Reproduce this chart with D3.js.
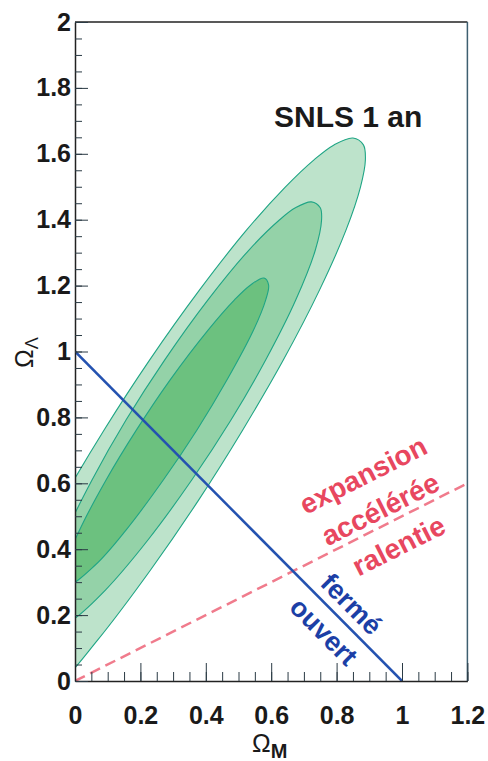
<!DOCTYPE html>
<html lang="fr">
<head>
<meta charset="UTF-8" />
<title>SNLS 1 an</title>
<script src="https://d3js.org/d3.v7.min.js"></script>
<style>
  body { margin: 0; background: #fff; }
  svg { display: block; }
  .lab { font-family: "Liberation Sans", Arial, sans-serif; font-weight: bold; }
</style>
</head>
<body>
<script>
var w = 488, h = 761;
var margin = {left: 75, right: 20.6, top: 22, bottom: 80};

// data
var xTicks = [0, 0.2, 0.4, 0.6, 0.8, 1, 1.2];
var yTicks = [0, 0.2, 0.4, 0.6, 0.8, 1, 1.2, 1.4, 1.6, 1.8, 2];
// contours (Omega_M, Omega_Lambda); points at x<0 get clipped
var outerContour = [[0.850,1.648],[0.882,1.627],[0.888,1.581],[0.873,1.499],[0.829,1.369],
  [0.748,1.187],[0.637,0.974],[0.513,0.762],[0.378,0.549],[0.231,0.337],[0.069,0.124],
  [-0.091,-0.058],[-0.300,-0.209],[-0.323,-0.058],[-0.257,0.124],[-0.156,0.337],
  [-0.039,0.549],[0.089,0.762],[0.228,0.974],[0.381,1.187],[0.525,1.369],[0.643,1.499],
  [0.730,1.581],[0.792,1.627]];
var middleContour = [[0.723,1.454],[0.750,1.436],[0.754,1.399],[0.735,1.308],[0.675,1.156],
  [0.583,0.974],[0.477,0.792],[0.357,0.610],[0.223,0.428],[0.093,0.276],[-0.008,0.185],
  [-0.075,0.155],[-0.105,0.185],[-0.094,0.276],[-0.038,0.428],[0.052,0.610],[0.156,0.792],
  [0.274,0.974],[0.406,1.156],[0.532,1.308],[0.625,1.399],[0.674,1.436]];
var innerContour = [[0.578,1.223],[0.592,1.202],[0.583,1.156],[0.546,1.065],[0.465,0.914],
  [0.373,0.762],[0.270,0.610],[0.156,0.458],[0.062,0.352],[-0.023,0.291],[-0.029,0.352],
  [0.014,0.458],[0.095,0.610],[0.188,0.762],[0.291,0.914],[0.407,1.065],[0.487,1.156],
  [0.537,1.202]];
var flatLine = [[0, 1], [1, 0]];          // fermé / ouvert
var q0Line = [[0, 0], [1.2, 0.6]];        // accélérée / ralentie

var x = d3.scaleLinear().domain([0, 1.2]).range([margin.left, w - margin.right]);
var y = d3.scaleLinear().domain([0, 2]).range([h - margin.bottom, margin.top]);

var svg = d3.select("body").append("svg").attr("width", w).attr("height", h);
svg.append("rect").attr("width", w).attr("height", h).attr("fill", "#fff");

svg.append("clipPath").attr("id", "plot").append("rect")
  .attr("x", x(0)).attr("y", y(2)).attr("width", x(1.2) - x(0)).attr("height", y(0) - y(2));

var g = svg.append("g").attr("clip-path", "url(#plot)");

var contour = d3.line().x(function(d) { return x(d[0]); }).y(function(d) { return y(d[1]); })
  .curve(d3.curveCatmullRomClosed.alpha(0.5));
[[outerContour, "#bde3cb"], [middleContour, "#94d2a8"], [innerContour, "#6cc17f"]].forEach(function(c) {
  g.append("path").attr("d", contour(c[0]))
    .attr("fill", c[1]).attr("stroke", "#1fa585").attr("stroke-width", 1.1);
});

var seg = d3.line().x(function(d) { return x(d[0]); }).y(function(d) { return y(d[1]); });
g.append("path").attr("d", seg(q0Line)).attr("stroke", "#f07b8c").attr("stroke-width", 2.5)
  .attr("stroke-dasharray", "11,6").attr("fill", "none");
g.append("path").attr("d", seg(flatLine)).attr("stroke", "#2452b0").attr("stroke-width", 2.5)
  .attr("fill", "none");

// labels along the lines
function alongLine(line, t, texts, color, size) {
  var x0 = x(line[0][0]), y0 = y(line[0][1]), x1 = x(line[1][0]), y1 = y(line[1][1]);
  var ang = Math.atan2(y1 - y0, x1 - x0);
  var px = x0 + t * Math.cos(ang), py = y0 + t * Math.sin(ang);
  var gg = svg.append("g").attr("transform", "translate(" + px + "," + py + ") rotate(" + ang * 180 / Math.PI + ")");
  texts.forEach(function(d) {
    gg.append("text").attr("class", "lab").attr("x", 0).attr("y", -d[1])
      .attr("text-anchor", "middle").attr("dominant-baseline", "central")
      .attr("font-size", size).attr("fill", color).text(d[0]);
  });
}
alongLine(q0Line, 350, [["expansion", 54], ["accélérée", 16], ["ralentie", -25]], "#e8475f", 28);
alongLine(flatLine, 374, [["fermé", 18], ["ouvert", -21]], "#1c3fa6", 27);

// frame and ticks
var frame = svg.append("g");
frame.append("line").attr("x1", x(0)).attr("x2", x(1.2)).attr("y1", y(2)).attr("y2", y(2)).attr("stroke", "#222").attr("stroke-width", 1.5);
frame.append("line").attr("x1", x(1.2)).attr("x2", x(1.2)).attr("y1", y(2)).attr("y2", y(0)).attr("stroke", "#3d5f70").attr("stroke-width", 1.5);

var xMinor = d3.range(0, 1.2001, 0.05);
var yMinor = d3.range(0, 2.0001, 0.05);

svg.append("g").attr("transform", "translate(0," + y(0) + ")")
  .call(d3.axisBottom(x).tickValues(xMinor).tickSizeInner(-9).tickSizeOuter(0).tickFormat(""))
  .call(function(a) { a.selectAll("line").attr("stroke", "#2a3a44"); a.select(".domain").attr("stroke", "#222").attr("stroke-width", 1.5); });
svg.append("g").attr("transform", "translate(0," + y(0) + ")")
  .call(d3.axisBottom(x).tickValues(xTicks).tickSizeInner(-18).tickSizeOuter(0).tickPadding(25)
    .tickFormat(function(d) { return String(+d.toFixed(1)); }))
  .call(function(a) {
    a.select(".domain").remove();
    a.selectAll("line").attr("stroke", "#2a3a44");
    a.selectAll("text").attr("class", "lab").attr("font-size", 25).attr("fill", "#1a1a1a");
  });

svg.append("g").attr("transform", "translate(" + x(0) + ",0)")
  .call(d3.axisLeft(y).tickValues(yMinor).tickSizeInner(-7).tickSizeOuter(0).tickFormat(""))
  .call(function(a) { a.selectAll("line").attr("stroke", "#2a3a44"); a.select(".domain").attr("stroke", "#222").attr("stroke-width", 1.5); });
svg.append("g").attr("transform", "translate(" + x(0) + ",0)")
  .call(d3.axisLeft(y).tickValues(yTicks).tickSizeInner(-13).tickSizeOuter(0).tickPadding(4)
    .tickFormat(function(d) { return String(+d.toFixed(1)); }))
  .call(function(a) {
    a.select(".domain").remove();
    a.selectAll("line").attr("stroke", "#2a3a44");
    a.selectAll("text").attr("class", "lab").attr("font-size", 25).attr("fill", "#1a1a1a");
  });

// axis titles
var xt = svg.append("text").attr("x", 252).attr("y", 752)
  .attr("font-family", "Liberation Sans, Arial, sans-serif").attr("fill", "#1a1a1a");
xt.append("tspan").attr("font-size", 25).text("Ω");
xt.append("tspan").attr("font-size", 20).attr("font-weight", "bold").attr("dy", 6).text("M");

var yt = svg.append("text").attr("transform", "translate(33,368) rotate(-90)")
  .attr("font-family", "Liberation Sans, Arial, sans-serif").attr("fill", "#1a1a1a");
yt.append("tspan").attr("font-size", 25).text("Ω");
yt.append("tspan").attr("font-size", 18).attr("dy", 5).text("Λ");

svg.append("text").attr("class", "lab").attr("x", 274).attr("y", 127)
  .attr("font-size", 30).attr("fill", "#1a1a1a").text("SNLS 1 an");
</script>
</body>
</html>
